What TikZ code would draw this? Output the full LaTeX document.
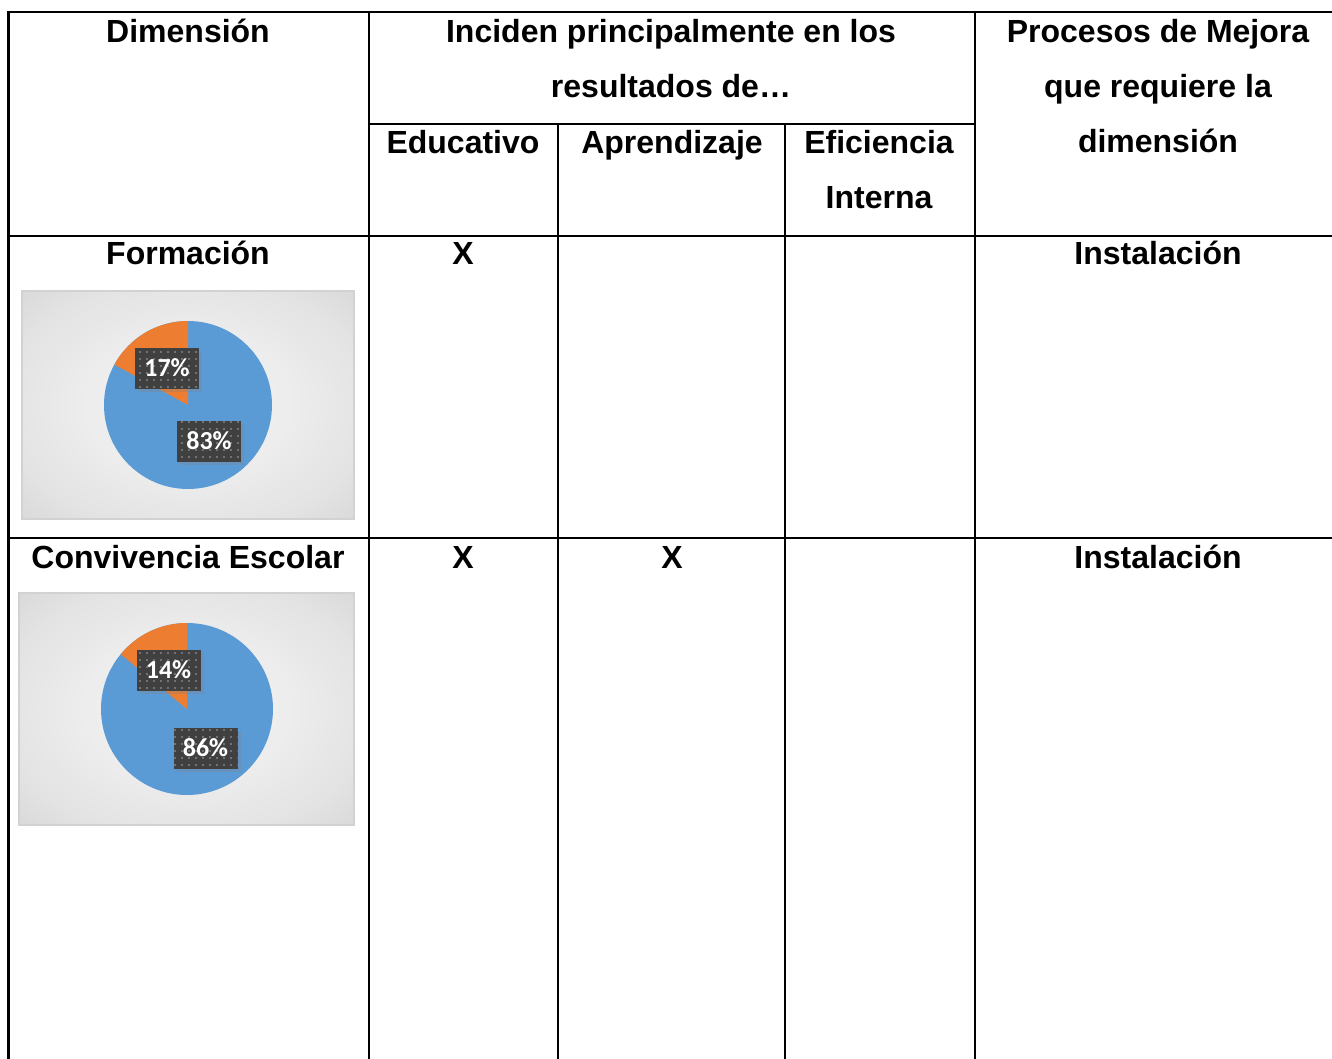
\documentclass[tikz,border=0pt]{standalone}
\usepackage{fontspec}
\setmainfont{Liberation Sans}
\newfontfamily\calfont{Carlito}
\usetikzlibrary{patterns.meta}
\usetikzlibrary{shadows}
\definecolor{pieblue}{HTML}{5B9BD5}
\definecolor{pieorange}{HTML}{ED7D31}
\definecolor{tagdark}{HTML}{404040}
\pgfdeclareradialshading{chartglow}{\pgfpoint{0bp}{0bp}}{%
  color(0bp)=(gray!11); color(15bp)=(gray!14); color(28bp)=(gray!22); color(40bp)=(gray!34); color(50bp)=(gray!46)}

\tikzset{
  txt/.style={font=\bfseries\fontsize{32}{36}\selectfont, anchor=base, inner sep=0},
  gridline/.style={black, line width=2},
  chartbox/.style={draw=gray!35, line width=1.5, shading=chartglow},
  tag/.style={fill=tagdark, text=white, font=\calfont\bfseries\fontsize{26}{26}\selectfont,
    minimum width=64, minimum height=41, inner sep=0,
    drop shadow={opacity=0.3, shadow xshift=3pt, shadow yshift=-3pt},
    postaction={pattern={Dots[distance=7pt, radius=0.9pt]}, pattern color=gray!70}},
}

\begin{document}
\begin{tikzpicture}[x=1pt, y=-1pt]
\useasboundingbox (0,0) rectangle (1332,1059);
\draw[gridline] (8,12) -- (1332,12);
\draw[gridline] (369,124) -- (975,124);
\draw[gridline] (8,236) -- (1332,236);
\draw[gridline] (8,538) -- (1332,538);
\draw[gridline, line width=3] (8,11) -- (8,1059);
\foreach \x in {369,975} \draw[gridline] (\x,11) -- (\x,1059);
\foreach \x in {558,785} \draw[gridline] (\x,124) -- (\x,1059);

\node[txt] (dim) at (188,43) {Dimensión};
\node[txt] (inc1) at (671,43) {Inciden principalmente en los};
\node[txt] (inc2) at (671,98) {resultados de…};
\node[txt] (proc1) at (1158,43) {Procesos de Mejora};
\node[txt] (proc2) at (1158,98) {que requiere la};
\node[txt] (proc3) at (1158,153) {dimensión};
\node[txt] (edu) at (463,154) {Educativo};
\node[txt] (apr) at (672,154) {Aprendizaje};
\node[txt] (efi1) at (879,154) {Eficiencia};
\node[txt] (efi2) at (879,209) {Interna};
\node[txt] (form) at (188,265) {Formación};
\node[txt] (x1) at (463,265) {X};
\node[txt] (ins1) at (1158,265) {Instalación};
\node[txt] (conv) at (188,568) {Convivencia Escolar};
\node[txt] (x2) at (463,568) {X};
\node[txt] (x3) at (672,568) {X};
\node[txt] (ins2) at (1158,568) {Instalación};

\shadedraw[chartbox] (22,291) rectangle (354,519);
\fill[pieblue] (188,405) circle[radius=84];
\fill[pieorange] (188,405) -- ++(-90:84) arc[start angle=-90, end angle=-151.2, radius=84] -- cycle;
\node[tag] (p17) at (167,368) {17\%};
\node[tag] (p83) at (209,441) {83\%};

\shadedraw[chartbox] (19,593) rectangle (354,825);
\fill[pieblue] (187,709) circle[radius=86];
\fill[pieorange] (187,709) -- ++(-90:86) arc[start angle=-90, end angle=-140.4, radius=86] -- cycle;
\node[tag] (p14) at (168.5,670) {14\%};
\node[tag] (p86) at (205.5,748) {86\%};
\end{tikzpicture}
\end{document}
